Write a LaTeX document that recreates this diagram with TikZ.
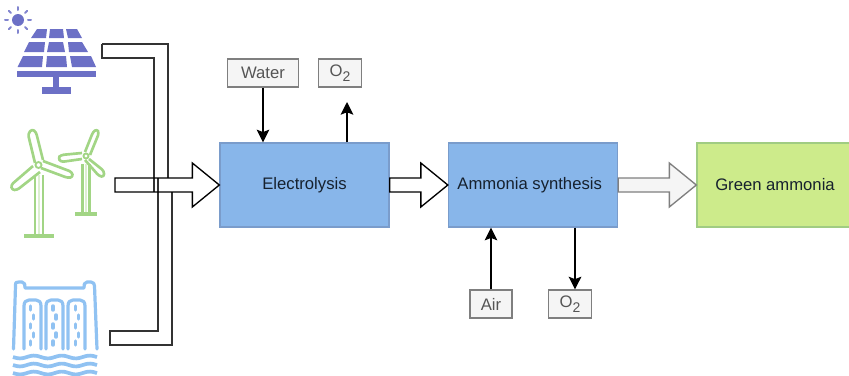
\documentclass[tikz,border=0pt]{standalone}
\usepackage{fontspec}
\setmainfont{Liberation Sans}
\usetikzlibrary{arrows.meta,calc}
\definecolor{procblue}{HTML}{88B6EA}
\definecolor{procedge}{HTML}{7A9CCB}
\definecolor{prodgreen}{HTML}{CDEB8B}
\definecolor{prodedge}{HTML}{A0CC82}
\definecolor{inputfill}{HTML}{F5F5F5}
\definecolor{inputedge}{HTML}{7F7F7F}
\definecolor{inputtext}{HTML}{555555}
\definecolor{solarc}{HTML}{6C70C6}
\definecolor{windc}{HTML}{A2D585}
\definecolor{windpale}{HTML}{DCEFD0}
\definecolor{hydroc}{HTML}{90C2F2}
\definecolor{pipec}{HTML}{333333}
\definecolor{labelc}{HTML}{16212E}
\newcommand{\oxy}{O\raisebox{-3.5pt}{\fontsize{10.5}{10.5}\selectfont 2}}
% block arrow from node anchor #2 to node anchor #3
\newcommand{\blockarrow}[3][]{%
  \draw[bigarrow,#1] ($(#2)+(0,-7)$) -- ($(#3)+(-27,-7)$) -- ($(#3)+(-27,-22)$) -- (#3)
    -- ($(#3)+(-27,22)$) -- ($(#3)+(-27,7)$) -- ($(#2)+(0,7)$) -- cycle;}
\tikzset{
  x=0.75pt,y=-0.75pt,
  every node/.style={font=\fontsize{12.5}{14}\selectfont},
  process/.style={draw=procedge,fill=procblue,line width=1pt,text=labelc,inner sep=0pt,minimum width=126.75pt,minimum height=63pt},
  product/.style={draw=prodedge,fill=prodgreen,line width=1pt,text=labelc,inner sep=0pt,minimum width=117pt,minimum height=63pt},
  inputbox/.style={draw=inputedge,fill=inputfill,line width=.9pt,text=inputtext,inner sep=0pt,minimum height=21pt},
  flow/.style={black,line width=1.05pt,-{Stealth[length=9.5pt,width=9.5pt,inset=1.8pt]}},
  bigarrow/.style={draw=black,line width=1pt,line join=miter},
  pipe/.style={draw=pipec,line width=1pt},
  solar/.style={fill=solarc,draw=none},
  wind/.style={draw=windc,line width=2pt,rounded corners=2pt,line join=round},
  hydro/.style={draw=hydroc,line width=2.4pt,line cap=round,line join=round},
}
\begin{document}
\begin{tikzpicture}
\useasboundingbox (0,0) rectangle (849,375);
% solar icon
\fill[solar] (18,20) circle (6);
\foreach \a in {0,45,...,315}
  \draw[solarc!85,line width=1.5pt,line cap=round] ($(18,20)+(\a:10)$) -- ($(18,20)+(\a:13)$);
\fill[solar] (31,38)--(37,29)--(47,29)--(46,38)--cycle;
\fill[solar] (49,38)--(50,29)--(63,29)--(64,38)--cycle;
\fill[solar] (68,38)--(66,29)--(77,29)--(82,38)--cycle;
\fill[solar] (24,52)--(29,42)--(45,42)--(44,52)--cycle;
\fill[solar] (47,52)--(49,42)--(63,42)--(65,52)--cycle;
\fill[solar] (69,52)--(68,42)--(82,42)--(88,52)--cycle;
\fill[solar] (17.5,67)--(23,56)--(43,56)--(42,67)--cycle;
\fill[solar] (46,67)--(47,56)--(66,56)--(67,67)--cycle;
\fill[solar] (72,67)--(70,56)--(91,56)--(96,67)--cycle;
\fill[solar] (17,71) rectangle (96,77);
\fill[solar] (53,77) rectangle (59,88);
\fill[solar] (42,87) rectangle (71,94);
% wind icon, large turbine
\draw[wind] (35,163)--(28,134)--(32,129)--(36,132)--(43,160);
\draw[wind] (43,161)--(72,172)--(73,177)--(68,178)--(41,168);
\draw[wind] (33,166)--(11,185)--(12,190)--(17,190)--(40,172);
\draw[windc,line width=1.4pt] (38.5,165) circle (3);
\draw[windpale,line width=1.5pt] (39,175)--(39,235);
\draw[windc,line width=2pt] (35,175)--(35,235) (43,175)--(43,235);
\draw[windc,line width=3pt] (24,235.5)--(54,235.5);
% wind icon, small turbine
\draw[wind] (85,152)--(93,132)--(97,129)--(99,133)--(90,155);
\draw[wind] (82,153)--(61,155)--(58,158)--(61,162)--(82,159);
\draw[wind] (89,159)--(104,171)--(104,177)--(99,176)--(85,160);
\draw[windc,line width=1.4pt] (86,156) circle (2.5);
\draw[windpale,line width=1.5pt] (86,164)--(86,213);
\draw[windc,line width=2pt] (82.5,164)--(82.5,213) (89.5,164)--(89.5,213);
\draw[windc,line width=3pt] (75,213.5)--(97,213.5);
% hydro icon
\draw[hydro] (13.5,349)--(15.5,286) .. controls (15.5,282) and (16,282) .. (19,282)
  -- (22,282) .. controls (25,282) and (25,285) .. (25,288) -- (84,288)
  .. controls (84,285) and (84,282) .. (87,282) -- (91,282)
  .. controls (94,282) and (94,284) .. (94.5,286) -- (97,349);
\foreach \l/\r in {24/41,46/63,68/85}
  \draw[hydro] (\l,349)--(\l,306) .. controls (\l,302) and (\l+2,300) .. (\l+5,300)
    -- (\r-5,300) .. controls (\r-2,300) and (\r,302) .. (\r,306) -- (\r,349);
\foreach \d in {0,22.3,44.6}{
  \foreach \xx/\yy in {30.7/308,33.7/317,30.7/326,33.7/335,30.7/343}
    \draw[hydroc,line width=2.6pt,line cap=round] (\xx+\d,\yy-2)--(\xx+\d,\yy+2);}
\foreach \w in {357,365,373}
  \draw[hydroc,line width=2.8pt] plot[domain=13:97,samples=50,smooth] (\x,{\w+1.4*sin((\x-13)*12.9)});
% process blocks
\node[process] (el) at (304.5,185) {Electrolysis};
\node[process] (am) at (533,185) {\hspace*{-5pt}Ammonia synthesis};
\node[product] (gr) at (775,185) {Green ammonia};
\node[inputbox,minimum width=53.25pt] (water) at (263,73) {Water};
\node[inputbox,minimum width=32.25pt] (o2a) at (340,73) {\oxy};
\node[inputbox,minimum width=31.5pt] (air) at (491,304) {Air};
\node[inputbox,minimum width=32.25pt] (o2b) at (570,304) {\oxy};
% small flows
\coordinate (o2afree) at (347,102);
\draw[flow] (water.south) -- (water.south |- el.north);
\draw[flow] (o2afree |- el.north) -- (o2afree);
\draw[flow] (air.north) -- (air.north |- am.south);
\coordinate (o2bx) at (575,0);
\draw[flow] (o2bx |- am.south) -- (o2bx |- o2b.north);
% source pipes
\draw[pipe] (102,44)--(168,44)--(168,178)
  (154,192)--(154,58)--(102,58)--(102,44);
\draw[pipe] (158,178)--(158,331)--(110,331)--(110,345)--(172,345)--(172,192);
% block arrows
\coordinate (srcend) at (115,185);
\blockarrow{srcend}{el.west}
\blockarrow{el.east}{am.west}
\blockarrow[draw=inputedge,fill=inputfill]{am.east}{gr.west}
\end{tikzpicture}
\end{document}
